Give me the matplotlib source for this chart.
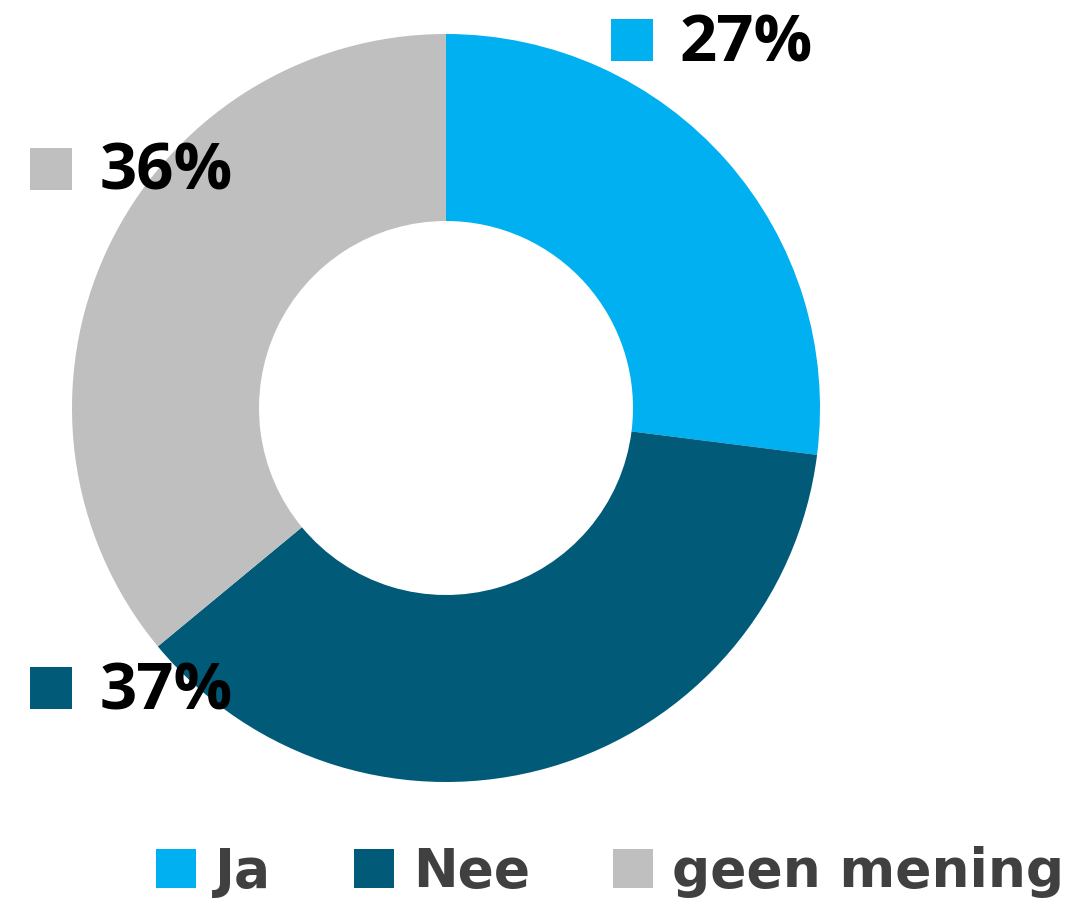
import matplotlib
matplotlib.use("Agg")
import matplotlib.pyplot as plt
from matplotlib.patches import Rectangle, Patch

# data
categories = ["Ja", "Nee", "geen mening"]
shares = [27, 37, 36]
colors = ["#00B0F0", "#005A78", "#BFBFBF"]
label_texts = ["27%", "37%", "36%"]

W, H = 1073, 901
fig = plt.figure(figsize=(W / 100, H / 100), dpi=100)

# donut: centre (446, 408) px, radius 374 px
cx, cy, r = 446, 408, 374
ax = fig.add_axes([(cx - r) / W, (H - cy - r) / H, 2 * r / W, 2 * r / H])
ax.pie(shares, colors=colors, startangle=90, counterclock=False,
       radius=1.0, wedgeprops=dict(width=0.5, edgecolor="none"))
ax.set_xlim(-1, 1)
ax.set_ylim(-1, 1)
ax.axis("off")

# data labels (marker square + percentage), pixel positions from the reference
label_pos = [(611, 19, 680, 45), (30, 667, 100, 693), (30, 148, 100, 173)]
for (sx, sy, tx, ty), col, txt in zip(label_pos, colors, label_texts):
    fig.patches.append(Rectangle((sx / W, 1 - (sy + 42) / H), 42 / W, 42 / H,
                                 transform=fig.transFigure, facecolor=col,
                                 edgecolor="none"))
    fig.text(tx / W, 1 - ty / H, txt, fontsize=47, fontweight="bold",
             family="Open Sans", color="black", ha="left", va="center")

# legend
handles = [Patch(facecolor=c, edgecolor="none") for c in colors]
leg = fig.legend(handles, categories, loc="center", ncol=3, frameon=False,
                 bbox_to_anchor=(610 / W, 1 - 872 / H),
                 prop=dict(family="DejaVu Sans", weight="bold", size=38.5),
                 handlelength=0.75, handleheight=0.75, handletextpad=0.35,
                 columnspacing=1.55, borderpad=0, borderaxespad=0)
for t in leg.get_texts():
    t.set_color("#404040")

fig.savefig("out.png", dpi=100, facecolor="white")
